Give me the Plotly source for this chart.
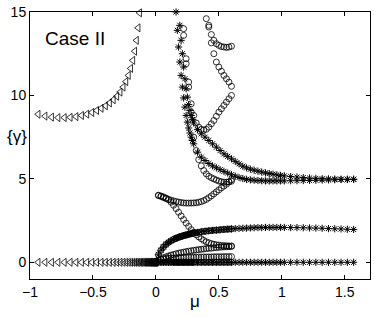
import plotly.graph_objects as go

# ---- data ----
tri_mu = [-0.935, -0.88, -0.828, -0.777, -0.727, -0.68, -0.634, -0.59, -0.548, -0.508,
          -0.47, -0.434, -0.4, -0.368, -0.338, -0.31, -0.284, -0.26, -0.238, -0.218,
          -0.2, -0.183, -0.168, -0.154, -0.141, -0.129, -0.118, -0.107, -0.097, -0.088,
          -0.079, -0.071, -0.063, -0.056, -0.049, -0.043, -0.037, -0.031, -0.026, -0.021,
          -0.016, -0.012, -0.008, -0.004, 0.0]
tri_upper = [8.87, 8.76, 8.7, 8.67, 8.67, 8.69, 8.73, 8.8, 8.88, 8.98,
             9.1, 9.23, 9.38, 9.55, 9.74, 9.95, 10.2, 10.5, 10.83, 11.2,
             11.62, 12.1, 12.65, 13.3, 14.05, 14.95]
tri_lower = [0.0] * 45

mu_circ = [0.00, 0.02, 0.04, 0.06, 0.08, 0.10, 0.12, 0.14, 0.16, 0.18, 0.20,
           0.22, 0.24, 0.26, 0.28, 0.30, 0.32, 0.34, 0.36, 0.38, 0.40,
           0.42, 0.44, 0.46, 0.48, 0.50, 0.52, 0.54, 0.56, 0.58, 0.60]
circ_zero = [0.0] * 31
circ_low = [0.0, 0.1, 0.16, 0.2, 0.22, 0.24, 0.25, 0.26, 0.27, 0.28, 0.28, 0.29, 0.29, 0.3, 0.3,
            0.3, 0.31, 0.31, 0.31, 0.32, 0.32, 0.32, 0.32, 0.33, 0.33, 0.33, 0.33, 0.34, 0.34,
            0.34, 0.34]
circ_slope = [0.0, 0.12, 0.2, 0.27, 0.33, 0.38, 0.43, 0.47, 0.51, 0.55, 0.58, 0.61, 0.64, 0.67,
              0.69, 0.72, 0.74, 0.76, 0.78, 0.8, 0.82, 0.84, 0.85, 0.87, 0.88, 0.9, 0.91, 0.92,
              0.93, 0.94, 0.95]
circ_two = [0.0, 0.45, 0.72, 0.92, 1.07, 1.19, 1.29, 1.37, 1.44, 1.5, 1.55, 1.6, 1.64, 1.68,
            1.72, 1.75, 1.78, 1.8, 1.83, 1.85, 1.87, 1.89, 1.9, 1.92, 1.93, 1.94, 1.96, 1.97,
            1.98, 1.99, 2.0]
circ_four_up = [4.02, 3.95, 3.88, 3.82, 3.77, 3.72, 3.68, 3.64, 3.61, 3.58, 3.56, 3.55, 3.55,
                3.55, 3.56, 3.57, 3.6, 3.64, 3.7, 3.77, 3.87, 3.98, 4.1, 4.22, 4.34, 4.46,
                4.57, 4.68, 4.82, 4.95]
circ_four_down = [4.0, 3.97, 3.92, 3.85, 3.75, 3.6, 3.42, 3.22, 3.0, 2.78, 2.56, 2.35, 2.15,
                  1.96, 1.8, 1.65, 1.52, 1.41, 1.31, 1.23, 1.17, 1.12, 1.08, 1.05, 1.03, 1.01,
                  1.0, 0.99, 0.98, 0.98]
circ_fall = [14.0, 12.2, 10.8, 9.0, 7.5, 6.7, 6.15, 5.78, 5.5, 5.3, 5.16, 5.07, 5.0, 4.93,
             4.87, 4.83, 4.8, 4.8, 4.82, 4.86]
circ_vee = [13.6, 11.9, 10.5, 9.5, 8.8, 8.35, 8.1, 7.97, 7.93, 7.97, 8.1, 8.3, 8.5, 8.75,
            9.0, 9.2, 9.4, 9.6, 9.8, 10.0]
circ_hook = [14.6, 14.2, 13.65, 13.3, 13.1, 13.0, 12.93, 12.9, 12.88, 12.9, 12.95]
circ_top2 = [14.1, 13.15, 12.5, 12.0, 11.7, 11.45, 11.2, 11.0, 10.8, 10.55]

mu_star = [0.00, 0.02, 0.04, 0.06, 0.08, 0.10, 0.12, 0.14, 0.15, 0.16, 0.17, 0.18, 0.19,
           0.20, 0.21, 0.22, 0.23, 0.24, 0.25, 0.26, 0.27, 0.28, 0.29, 0.30, 0.33, 0.36,
           0.39, 0.42, 0.45, 0.48, 0.51, 0.54, 0.57, 0.60, 0.63, 0.66, 0.69, 0.72, 0.75,
           0.78, 0.81, 0.84, 0.87, 0.90, 0.93, 0.96, 0.99, 1.02, 1.07, 1.12, 1.17, 1.22,
           1.27, 1.32, 1.37, 1.42, 1.47, 1.52, 1.57]
star_a = [15.2, 14.2, 13.3, 12.5, 11.7, 11.0, 10.4, 9.9, 9.45, 9.1, 8.8, 8.55, 8.35,
          7.95, 7.7, 7.5, 7.3, 7.1, 6.9, 6.7, 6.5, 6.35, 6.2, 6.05, 5.9, 5.76, 5.66, 5.58,
          5.52, 5.46, 5.41, 5.36, 5.32, 5.28, 5.24, 5.21,
          5.18, 5.14, 5.11, 5.08, 5.05, 5.03, 5.01, 5.0, 4.99, 4.98, 4.98, 4.98]
star_b = [15.0, 13.9, 12.9, 12.0, 11.2, 10.5, 9.85, 9.3, 8.8, 8.4, 8.05, 7.75, 7.5, 7.3, 7.1,
          6.6, 6.3, 6.1, 5.92, 5.78, 5.66, 5.55, 5.45, 5.35, 5.25, 5.16, 5.08, 5.02, 4.97,
          4.94, 4.92, 4.9, 4.89, 4.88, 4.88, 4.88, 4.88, 4.88,
          4.88, 4.89, 4.89, 4.9, 4.91, 4.92, 4.93, 4.94, 4.95, 4.96, 4.96, 4.97]
star_two = [0.0, 0.45, 0.72, 0.92, 1.07, 1.19, 1.29, 1.37, 1.41, 1.44, 1.47, 1.5, 1.53, 1.55,
            1.57, 1.6, 1.62, 1.64, 1.66, 1.68, 1.7, 1.72, 1.73, 1.75, 1.79, 1.83, 1.86, 1.89,
            1.91, 1.93, 1.95, 1.97, 1.99, 2.0, 2.02, 2.03, 2.04, 2.05, 2.06, 2.07, 2.08, 2.08,
            2.09, 2.09, 2.09, 2.09, 2.09, 2.09, 2.08, 2.08, 2.07, 2.06, 2.05, 2.04, 2.02,
            2.01, 2.0, 1.98, 1.97]
star_zero = [0.0] * 59

x_ticks = [-1, -0.5, 0, 0.5, 1, 1.5]
x_tick_text = ["\u22121", "\u22120.5", "0", "0.5", "1", "1.5"]
y_ticks = [0, 5, 10, 15]
y_tick_text = ["0", "5", "10", "15"]

# ---- figure ----
fig = go.Figure()
BLK = "black"


def tail(xs, ys):
    return xs[len(xs) - len(ys):]


def add(xs, ys, symbol, size, width=0.8):
    fig.add_trace(go.Scatter(
        x=xs, y=ys, mode="markers", cliponaxis=False, showlegend=False,
        marker=dict(symbol=symbol, size=size, color=BLK,
                    line=dict(color=BLK, width=width))))


# triangles
add(tri_mu[:len(tri_upper)], tri_upper, "triangle-left-open", 7)
add(tri_mu, tri_lower, "triangle-left-open", 7)

# circles
add(mu_circ, circ_zero, "circle-open", 6)
add(mu_circ, circ_low, "circle-open", 6)
add(mu_circ, circ_slope, "circle-open", 6)
add(mu_circ, circ_two, "circle-open", 6)
add(tail(mu_circ, circ_four_up), circ_four_up, "circle-open", 6)
add(tail(mu_circ, circ_four_down), circ_four_down, "circle-open", 6)
add(tail(mu_circ, circ_fall), circ_fall, "circle-open", 6)
add(tail(mu_circ, circ_vee), circ_vee, "circle-open", 6)
add(tail(mu_circ, circ_hook), circ_hook, "circle-open", 6)
add(tail(mu_circ, circ_top2), circ_top2, "circle-open", 6)

# stars
add(tail(mu_star, star_a), star_a, "asterisk-open", 6, 1)
add(tail(mu_star, star_b), star_b, "asterisk-open", 6, 1)
add(mu_star, star_two, "asterisk-open", 6, 1)
add(mu_star, star_zero, "asterisk-open", 6, 1)

axis_common = dict(showline=True, linecolor=BLK, linewidth=1, mirror="ticks",
                   ticks="inside", ticklen=4, tickcolor=BLK, showgrid=False,
                   zeroline=False, tickfont=dict(family="Liberation Sans, Arial", size=14,
                                                 color=BLK))

fig.update_layout(
    width=374, height=317,
    margin=dict(l=30, r=4, t=12, b=38),
    paper_bgcolor="white", plot_bgcolor="white",
    xaxis=dict(range=[-1, 1.7], tickvals=x_ticks, ticktext=x_tick_text, **axis_common),
    yaxis=dict(range=[-1, 15], tickvals=y_ticks, ticktext=y_tick_text, **axis_common),
    annotations=[
        dict(text="Case II", x=0.038, y=0.9, xref="paper", yref="paper",
             xanchor="left", yanchor="middle", showarrow=False,
             font=dict(family="Liberation Sans, Arial", size=19, color=BLK)),
        dict(text="{\u03b3}", x=-0.003, y=0.535, xref="paper", yref="paper",
             xanchor="right", yanchor="middle", showarrow=False,
             font=dict(family="Liberation Sans, Arial", size=17, color=BLK)),
        dict(text="\u03bc", x=0.485, y=-0.086, xref="paper", yref="paper",
             xanchor="center", yanchor="middle", showarrow=False,
             font=dict(family="Liberation Sans, Arial", size=17, color=BLK)),
    ],
)

fig.write_html("out.html", config={"displayModeBar": False},
               post_script="document.body.style.margin='0px';document.body.style.padding='0px';")
